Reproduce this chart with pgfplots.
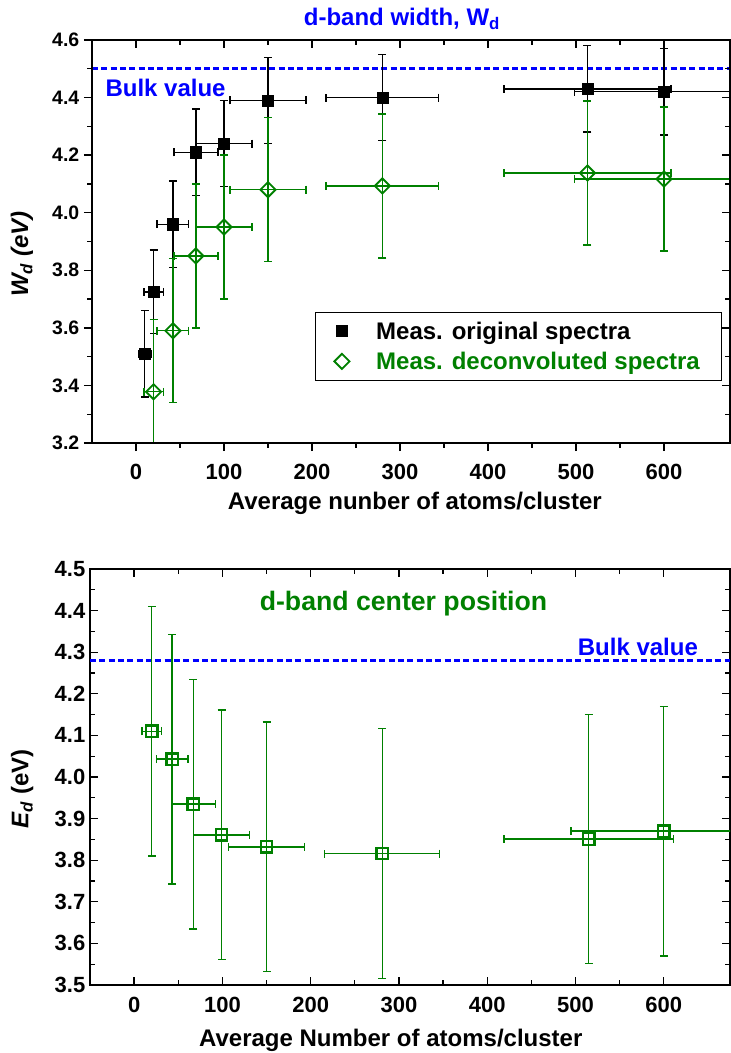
\documentclass[border=0pt]{standalone}
\usepackage{fontspec}
\setmainfont{Liberation Sans}
\usepackage{pgfplots}
\pgfplotsset{compat=1.18}

\definecolor{dgreen}{RGB}{0,128,0}
\definecolor{bblue}{RGB}{0,0,255}

\pgfplotsset{
  panel/.style={
    scale only axis,
    xmin=-50, xmax=675,
    xtick={0,100,200,300,400,500,600},
    minor x tick num=1,
    axis line style={line width=1.1pt},
    every tick/.style={black, line width=1pt},
    major tick length=6pt,
    minor tick length=3.5pt,
    tick label style={font=\fontsize{16.5}{18}\selectfont\bfseries},
    /pgf/number format/assume math mode=true,
    yticklabel style={/pgf/number format/fixed, /pgf/number format/fixed zerofill,
      /pgf/number format/precision=1},
    label style={font=\fontsize{18}{20}\selectfont\bfseries},
  },
  ebars/.style={
    /pgfplots/error bars/x dir=both, /pgfplots/error bars/x explicit,
    /pgfplots/error bars/y dir=both, /pgfplots/error bars/y explicit,
    /pgfplots/error bars/error bar style={line width=1pt, draw=#1},
    /pgfplots/error bars/error mark options={line width=1pt, mark size=3pt, rotate=90, draw=#1},
  },
}

\begin{document}
\begin{tikzpicture}
\path[use as bounding box] (0,0) rectangle (548.25pt,-789.75pt);

% ---------------- top panel: d-band width
\begin{axis}[panel,
  at={(69pt,-332.25pt)}, anchor=south west,
  width=478.5pt, height=302.25pt,
  ymin=3.2, ymax=4.6,
  ytick={3.2,3.4,3.6,3.8,4.0,4.2,4.4,4.6},
  minor y tick num=1,
  tick align=outside, xtick pos=bottom, ytick pos=left,
  xticklabel style={anchor=base, yshift=-21.5pt},
  yticklabel style={font=\fontsize{14.6}{16}\selectfont\bfseries},
  xlabel={Average nunber of atoms/cluster},
  xlabel style={at={(rel axis cs:0.506,-0.166)}, anchor=base},
  ylabel={\itshape W\textsubscript{d} (eV)},
  ylabel style={at={(rel axis cs:-0.11,0.469)}, anchor=center},
  legend style={at={(0.987,0.154)}, anchor=south east, draw=black,
    line width=0.8pt, font=\fontsize{18}{20}\selectfont\bfseries,
    cells={anchor=west}, row sep=4pt, column sep=18pt,
    inner xsep=14pt, inner ysep=5pt},
]
\addplot[bblue, line width=2pt, dash pattern=on 4.5pt off 2.5pt, forget plot]
  coordinates {(-50,4.5) (675,4.5)};

\addplot[only marks, mark=square*, mark size=4.2pt, black, ebars=black] coordinates {
  (10,3.51) +- (7,0.15)
  (20,3.725) +- (11,0.145)
  (42,3.96) +- (18,0.15)
  (68,4.21) +- (25,0.15)
  (100,4.24) +- (32,0.15)
  (150,4.39) +- (43,0.15)
  (280,4.40) +- (64,0.15)
  (513,4.43) +- (95,0.15)
  (600,4.42) +- (102,0.15)
};
\addlegendentry{Meas. original spectra}

\addplot[only marks, mark=square, mark size=4pt, dgreen,
  mark options={rotate=45, fill=white, line width=1.4pt}, ebars=dgreen] coordinates {
  (20,3.378) +- (11,0.25)
  (42,3.59) +- (18,0.25)
  (68,3.85) +- (25,0.25)
  (100,3.95) +- (32,0.25)
  (150,4.08) +- (43,0.25)
  (280,4.093) +- (64,0.25)
  (513,4.138) +- (95,0.25)
  (600,4.117) +- (102,0.25)
};
\addlegendentry{\textcolor{dgreen}{Meas. deconvoluted spectra}}

\node[anchor=base west, text=bblue, font=\fontsize{18}{20}\selectfont\bfseries]
  at (axis cs:-40,4.402) {Bulk value};
\end{axis}

% mirrored ticks (inside) on top and right of the top panel
\begin{axis}[panel,
  at={(69pt,-332.25pt)}, anchor=south west,
  width=478.5pt, height=302.25pt,
  ymin=3.2, ymax=4.6,
  ytick={3.2,3.4,3.6,3.8,4.0,4.2,4.4,4.6},
  minor y tick num=1,
  tick align=inside, xtick pos=top, ytick pos=right,
  xticklabels={}, yticklabels={},
]
\end{axis}

\node[text=bblue, font=\fontsize{18}{20}\selectfont\bfseries, anchor=base]
  at (301.5pt,-18.75pt) {d-band width, W\textsubscript{d}};

% ---------------- bottom panel: d-band center
\begin{axis}[panel,
  at={(67.5pt,-738.75pt)}, anchor=south west,
  width=480pt, height=312pt,
  ymin=3.5, ymax=4.5,
  ytick={3.5,3.6,3.7,3.8,3.9,4.0,4.1,4.2,4.3,4.4,4.5},
  minor y tick num=1,
  tick align=inside,
  xticklabel style={anchor=base, yshift=-20.25pt},
  xlabel={Average Number of atoms/cluster},
  xlabel style={at={(rel axis cs:0.47,-0.149)}, anchor=base},
  ylabel={\textit{E}\textsubscript{\textit{d}} (eV)},
  ylabel style={at={(rel axis cs:-0.106,0.471)}, anchor=center},
]
\addplot[bblue, line width=2pt, dash pattern=on 4.5pt off 2.5pt]
  coordinates {(-50,4.28) (675,4.28)};

\addplot[only marks, mark=square, mark size=4.3pt, dgreen,
  mark options={fill=white, line width=1.8pt}, ebars=dgreen] coordinates {
  (20,4.11) +- (11,0.30)
  (43,4.043) +- (18,0.30)
  (67,3.935) +- (25,0.30)
  (99,3.861) +- (32,0.30)
  (150,3.832) +- (43,0.30)
  (281,3.816) +- (65,0.30)
  (515,3.851) +- (96,0.30)
  (600,3.87) +- (105,0.30)
};

\node[anchor=base east, text=bblue, font=\fontsize{18}{20}\selectfont\bfseries]
  at (axis cs:644,4.293) {Bulk value};
\node[anchor=base west, text=dgreen, font=\fontsize{20}{22}\selectfont\bfseries]
  at (axis cs:137,4.40) {d-band center position};
\end{axis}
\end{tikzpicture}
\end{document}
